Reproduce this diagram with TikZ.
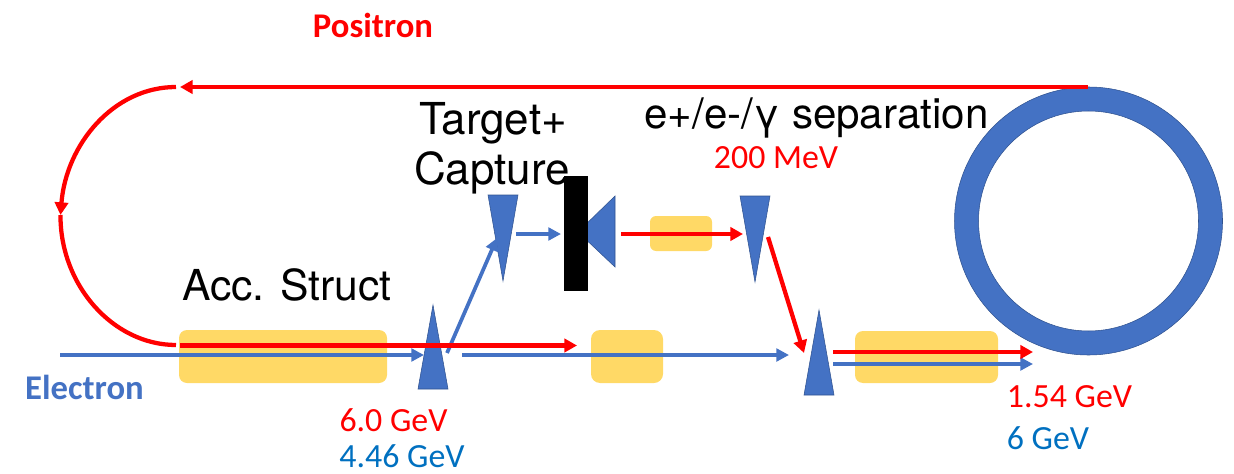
\documentclass[tikz,border=0pt]{standalone}
\usepackage{fontspec}
\setmainfont{Carlito}
\newfontfamily\heros{TeX Gyre Heros}
\usetikzlibrary{arrows.meta}
\definecolor{blueShape}{HTML}{4472C4}
\definecolor{blueEdge}{HTML}{2F528F}
\definecolor{goldBox}{HTML}{FFD966}
\definecolor{blueText}{HTML}{0070C0}
\tikzset{
  x=0.75pt,y=-0.75pt,
  goldbox/.style={fill=goldBox,draw=none,inner sep=0pt},
  wedgeshape/.style={fill=blueShape,draw=blueEdge,line width=0.4pt,line join=miter},
  redarrow/.style={draw=red,line width=3.2pt,-{Triangle[length=9.5pt,width=10pt]}},
  bluearrow/.style={draw=blueShape,line width=2.8pt,-{Triangle[length=9.5pt,width=9.5pt]}},
  redcurve/.style={draw=red,line width=3.2pt},
  lighttext/.style={font=\heros\fontsize{33}{36}\selectfont,text=black,inner sep=0pt},
  septext/.style={font=\heros\fontsize{31.6}{36}\selectfont,text=black,inner sep=0pt},
  acctext/.style={font=\heros\fontsize{32}{36}\selectfont,text=black,inner sep=0pt},
  energy/.style={font=\fontsize{25.4}{28}\selectfont,inner sep=0pt},
  beamname/.style={font=\bfseries\fontsize{26}{28}\selectfont,inner sep=0pt},
}
\begin{document}
\begin{tikzpicture}
\useasboundingbox (0,0) rectangle (1234,474);
% accelerating structures
\path[goldbox,rounded corners=8pt*0.75] (179,330) rectangle (387,383);
\path[goldbox,rounded corners=9pt*0.75] (591,330) rectangle (663,383);
\path[goldbox,rounded corners=6pt*0.75] (650,216) rectangle (712,251);
\path[goldbox,rounded corners=8pt*0.75] (855,331) rectangle (998,383);
% damping ring
\path[fill=blueShape,draw=blueEdge,line width=0.4pt,even odd rule]
  (1088.5,221) circle[radius=134*0.75pt] (1088.5,221) circle[radius=110*0.75pt];
% wedges
\draw[wedgeshape] (433,305) -- (448,389) -- (418,389) -- cycle;
\draw[wedgeshape] (488,195) -- (518,195) -- (503,281) -- cycle;
\draw[wedgeshape] (578,232) -- (615,196) -- (615,267) -- cycle;
\draw[wedgeshape] (740,196) -- (770,196) -- (755,282) -- cycle;
\draw[wedgeshape] (819,310) -- (834,395) -- (804,395) -- cycle;
% target
\path[fill=black] (564,176) rectangle (588,291);
% named beam points
\coordinate (eStart) at (60,355);
\coordinate (eWedge) at (424,355);
\coordinate (upStart) at (447,353);
\coordinate (upEnd) at (497,238);
\coordinate (capStart) at (516,234);
\coordinate (capEnd) at (561,234);
\coordinate (midStart) at (462,355);
\coordinate (midEnd) at (789,355);
\coordinate (outStart) at (833,364);
\coordinate (outEnd) at (1033,364);
\coordinate (pStart) at (621,234);
\coordinate (pEnd) at (743,234);
\coordinate (dnStart) at (768,237);
\coordinate (dnEnd) at (804,353);
\coordinate (rOutStart) at (833,352);
\coordinate (rOutEnd) at (1033,352);
\coordinate (ringOut) at (1088,87);
\coordinate (arcTop) at (180,87);
\coordinate (arcTopEnd) at (176,87);
\coordinate (arcMid) at (60.5,215);
\coordinate (arcBot) at (176,345);
\coordinate (linacStart) at (180,345.5);
\coordinate (linacEnd) at (577,345.5);
% electron beams
\draw[bluearrow] (eStart) -- (eWedge);
\draw[bluearrow] (upStart) -- (upEnd);
\draw[bluearrow] (capStart) -- (capEnd);
\draw[bluearrow] (midStart) -- (midEnd);
\draw[bluearrow] (outStart) -- (outEnd);
% positron beams
\draw[redarrow] (pStart) -- (pEnd);
\draw[redarrow] (dnStart) -- (dnEnd);
\draw[redarrow] (rOutStart) -- (rOutEnd);
\draw[redarrow] (linacStart) -- (linacEnd);
\draw[redarrow] (ringOut) -- (arcTop);
\draw[redcurve,-{Triangle[length=9.5pt,width=10pt]}] (arcTopEnd) .. controls (113,87) and (66,145) .. (arcMid);
\draw[redcurve] (arcMid) .. controls (60,285) and (113,345) .. (arcBot);
% labels
\node[beamname,text=red] (positron) at (373,25) {Positron};
\node[beamname,text=blueShape] (electron) at (84.5,387) {Electron};
\node[lighttext] (target) at (493,123) {Target+};
\node[lighttext] (capture) at (492,173) {Capture};
\node[septext] (sep) at (816.5,118) {e+/e-/γ separation};
\node[acctext] (acc) at (287,285) {Acc. Struct};
\node[energy,text=red] (e200) at (776,158) {200 MeV};
\node[energy,text=red] (e60) at (393.5,420) {6.0 GeV};
\node[energy,text=blueText] (e446) at (402,456) {4.46 GeV};
\node[energy,text=red] (e154) at (1069.5,397) {1.54 GeV};
\node[energy,text=blueText] (e6) at (1048,438) {6 GeV};
\end{tikzpicture}
\end{document}
